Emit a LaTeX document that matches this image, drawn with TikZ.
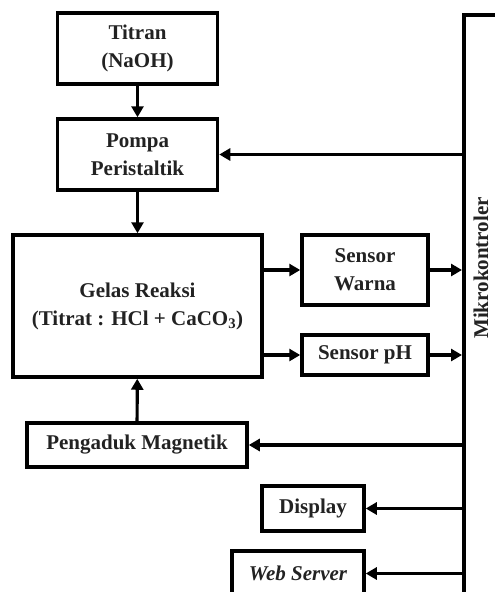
\documentclass[tikz,border=0pt]{standalone}
\usepackage{fontspec}
\setmainfont{Liberation Serif}
\usetikzlibrary{positioning,arrows.meta}
\definecolor{inkTxt}{HTML}{222222}

\begin{document}
\begin{tikzpicture}[
  x=1pt, y=-1pt,
  font=\fontsize{21}{28}\selectfont\bfseries,
  >={Triangle[length=11pt,width=12pt]},
  blk/.style={draw, line width=3.5pt, align=center, inner sep=0pt, text=inkTxt},
  arr/.style={->, line width=3.2pt},
]
\useasboundingbox (0,0) rectangle (495,592);

% =========================== LEFT COLUMN ===========================
\node[blk, minimum width=160pt, minimum height=71pt] (titran) at (137.5,48.5){Titran\\(NaOH)};
\node[blk, minimum width=160pt, minimum height=71pt] (pompa)  at (137.5,154.5){Pompa\\Peristaltik};
\node[blk, minimum width=249pt, minimum height=142pt] (gelas) at (137.5,306){Gelas Reaksi\\(Titrat : HCl + CaCO\textsubscript{3})};
\node[blk, minimum width=220pt, minimum height=44pt] (aduk)   at (137,445){Pengaduk Magnetik};

\draw[arr] (titran) -- (pompa);
\draw[arr] (pompa) -- (gelas);
\draw[arr] (aduk) -- (gelas);

% =========================== SENSORS ===========================
\node[blk, minimum width=126pt, minimum height=70pt] (warna) at (365,270){Sensor\\Warna};
\node[blk, minimum width=126pt, minimum height=40pt] (ph)    at (365,355){Sensor pH};

\draw[arr] (gelas.east |- warna) -- (warna);
\draw[arr] (gelas.east |- ph) -- (ph);

% =========================== OUTPUTS ===========================
\node[blk, minimum width=102pt, minimum height=45pt] (disp) at (313,508.5){Display};
\node[blk, minimum width=132pt, minimum height=45pt, font=\fontsize{21}{28}\selectfont\bfseries\itshape] (web)
  at (298,573.5){Web Server};

% =========================== MIKROKONTROLER ===========================
\node[blk, minimum width=40pt, minimum height=620pt, anchor=north west] (mcu) at (462,13){};
\node[rotate=90, text=inkTxt] (mculab) at (481,268){Mikrokontroler};

\draw[arr] (warna) -- (warna -| mcu.west);
\draw[arr] (ph) -- (ph -| mcu.west);
\draw[arr] (mcu.west |- pompa) -- (pompa);
\draw[arr] (mcu.west |- aduk) -- (aduk);
\draw[arr] (mcu.west |- disp) -- (disp);
\draw[arr] (mcu.west |- web) -- (web);

\end{tikzpicture}
\end{document}
